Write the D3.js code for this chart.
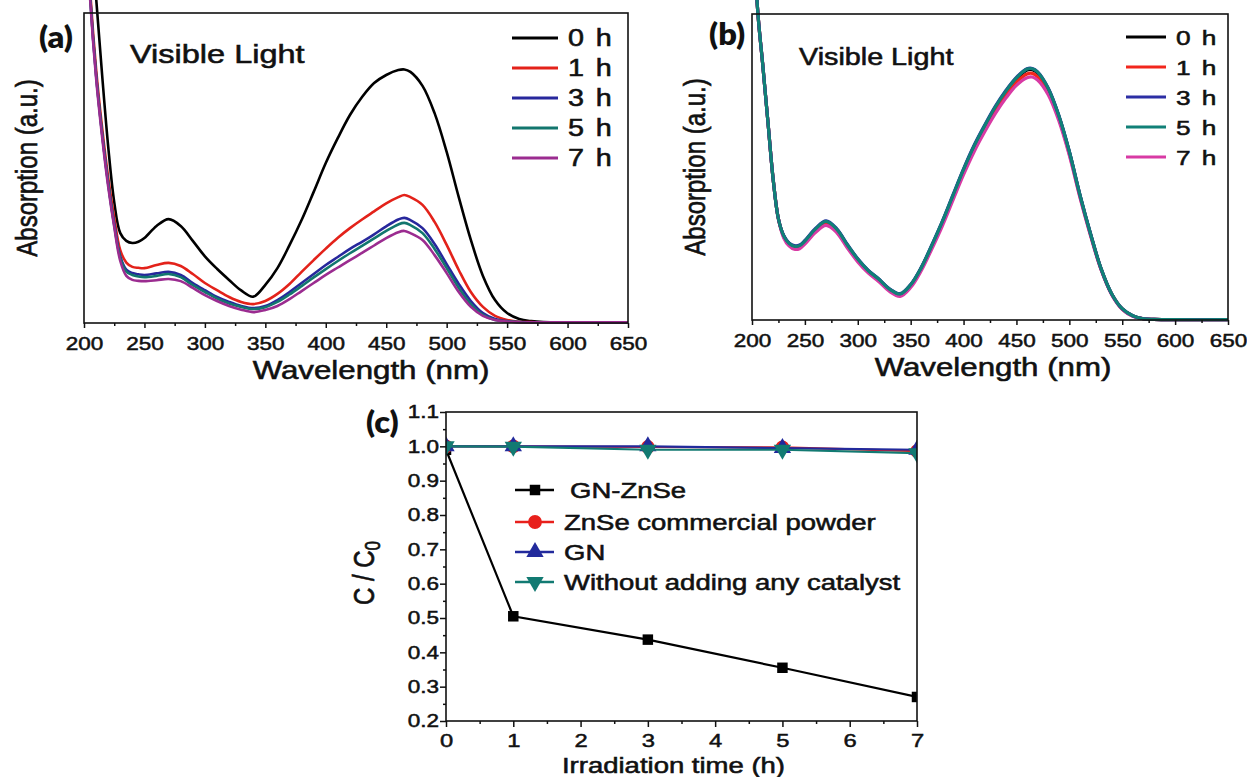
<!DOCTYPE html>
<html>
<head>
<meta charset="utf-8">
<script src="https://cdn.jsdelivr.net/npm/d3@7"></script>
<style>
  body { margin: 0; background: #fff; }
  svg { display: block; }
</style>
</head>
<body>
<svg id="fig" width="1247" height="777"></svg>
<script>
// ---- data ----
// wavelengths (nm) shared by all spectra
const wavelength = [200,205,210,215,220,225,230,235,240,245,250,
  260,270,280,290,300,310,320,330,340,350,360,370,380,390,400,410,420,430,440,450,460,
  465,470,480,490,500,510,520,530,540,550,560,570,580,600,650];

// panel (a) absorption (a.u.), GN-ZnSe under visible light
const a0h = [1.60,1.30,1.05,0.80,0.57,0.39,0.29,0.265,0.258,0.262,0.274,
  0.313,0.335,0.313,0.265,0.215,0.175,0.139,0.105,0.085,0.123,0.177,0.251,0.332,0.423,0.516,0.597,0.671,0.729,0.774,0.800,0.816,
  0.818,0.810,0.765,0.677,0.552,0.406,0.268,0.152,0.074,0.032,0.013,0.006,0.003,0.002,0.002];
const a1h = [1.50,1.08,0.82,0.63,0.47,0.34,0.235,0.195,0.181,0.178,0.177,
  0.187,0.194,0.184,0.158,0.129,0.106,0.084,0.068,0.061,0.071,0.094,0.126,0.165,0.203,0.240,0.275,0.306,0.334,0.360,0.386,0.406,
  0.413,0.406,0.381,0.326,0.252,0.171,0.100,0.052,0.023,0.010,0.004,0.003,0.002,0.002,0.002];
const a3h = [1.48,1.06,0.80,0.61,0.45,0.32,0.215,0.172,0.161,0.157,0.155,
  0.160,0.165,0.155,0.129,0.106,0.084,0.068,0.055,0.048,0.055,0.074,0.100,0.129,0.158,0.187,0.213,0.239,0.262,0.286,0.312,0.334,
  0.339,0.332,0.306,0.255,0.190,0.126,0.071,0.032,0.013,0.006,0.003,0.002,0.002,0.002,0.002];
const a5h = [1.48,1.06,0.80,0.61,0.45,0.315,0.21,0.166,0.155,0.150,0.148,
  0.152,0.158,0.148,0.122,0.100,0.079,0.063,0.052,0.045,0.051,0.068,0.092,0.119,0.147,0.174,0.200,0.225,0.249,0.273,0.297,0.318,
  0.323,0.316,0.290,0.239,0.177,0.113,0.061,0.026,0.010,0.005,0.003,0.002,0.002,0.002,0.002];
const a7h = [1.47,1.05,0.79,0.60,0.44,0.31,0.20,0.152,0.139,0.136,0.135,
  0.138,0.142,0.135,0.113,0.090,0.071,0.055,0.043,0.035,0.042,0.055,0.077,0.103,0.129,0.155,0.179,0.203,0.226,0.250,0.274,0.293,
  0.297,0.290,0.268,0.219,0.161,0.100,0.052,0.023,0.010,0.005,0.002,0.002,0.002,0.002,0.002];

// panel (b) absorption (a.u.), without catalyst
const b0h = [1.50,1.03,0.84,0.65,0.46,0.33,0.275,0.250,0.240,0.242,0.257,
  0.296,0.320,0.296,0.245,0.198,0.160,0.132,0.100,0.084,0.114,0.170,0.242,0.320,0.405,0.490,0.566,0.632,0.693,0.745,0.788,0.817,
  0.818,0.807,0.755,0.667,0.549,0.408,0.281,0.167,0.085,0.036,0.013,0.004,0.002,0.001,0.001];
const b1h = [1.50,1.03,0.84,0.65,0.46,0.33,0.272,0.246,0.236,0.238,0.252,
  0.290,0.313,0.290,0.240,0.194,0.156,0.129,0.097,0.081,0.111,0.166,0.238,0.315,0.399,0.483,0.558,0.623,0.683,0.734,0.777,0.804,
  0.806,0.795,0.745,0.659,0.543,0.404,0.279,0.166,0.085,0.036,0.013,0.004,0.002,0.001,0.001];
const b3h = [1.50,1.03,0.84,0.65,0.46,0.33,0.276,0.252,0.243,0.245,0.260,
  0.299,0.324,0.299,0.248,0.200,0.162,0.134,0.102,0.086,0.116,0.172,0.245,0.323,0.409,0.494,0.571,0.637,0.698,0.750,0.793,0.821,
  0.822,0.811,0.758,0.669,0.551,0.410,0.283,0.168,0.086,0.037,0.014,0.004,0.002,0.001,0.001];
const b5h = [1.50,1.03,0.84,0.65,0.46,0.33,0.275,0.251,0.241,0.243,0.258,
  0.297,0.322,0.297,0.246,0.199,0.161,0.133,0.101,0.085,0.115,0.171,0.244,0.322,0.407,0.492,0.569,0.635,0.696,0.748,0.791,0.820,
  0.821,0.810,0.757,0.668,0.550,0.409,0.282,0.168,0.086,0.037,0.014,0.004,0.002,0.001,0.001];
const b7h = [1.50,1.03,0.84,0.65,0.46,0.33,0.268,0.242,0.231,0.233,0.248,
  0.286,0.309,0.286,0.236,0.190,0.153,0.125,0.093,0.077,0.106,0.161,0.232,0.308,0.392,0.475,0.550,0.615,0.674,0.725,0.767,0.792,
  0.794,0.784,0.736,0.652,0.538,0.401,0.276,0.164,0.083,0.035,0.012,0.004,0.002,0.001,0.001];

const hourLabels = ["0 h", "1 h", "3 h", "5 h", "7 h"];

// panel (c) C/C0 vs irradiation time
const timeH = [0, 1, 3, 5, 7];
const gnZnSe = [0.99, 0.505, 0.437, 0.355, 0.270];
const znseCommercial = [1.0, 1.0, 0.998, 0.997, 0.986];
const gnOnly = [1.0, 1.0, 1.0, 0.995, 0.990];
const noCatalyst = [1.0, 0.999, 0.990, 0.990, 0.980];
const seriesNamesC = ["GN-ZnSe", "ZnSe commercial powder", "GN", "Without adding any catalyst"];

// ---- drawing ----
const SX = 1.25;   // the figure's lettering is stretched sideways
const FONT = '"Liberation Sans", Arial, sans-serif';
const TAGFONT = 'Lato, "Open Sans", sans-serif';
const INK = "#111";
const svg = d3.select("#fig");

function txt(x, y, s, size, o = {}) {
  const t = svg.append("text")
    .attr("transform", `translate(${x},${y}) scale(${o.sx ?? SX},1)` + (o.rot ? ` rotate(${o.rot})` : ""))
    .attr("text-anchor", o.anchor || "start")
    .style("font-family", o.family || FONT)
    .style("font-size", size + "px")
    .style("font-weight", o.weight || "normal")
    .style("letter-spacing", o.ls || "0px")
    .style("fill", INK)
    .style("stroke", o.weight ? "none" : INK)
    .style("stroke-width", 0.55);
  if (s !== null) t.text(s);
  return t;
}

function styleAxis(g, size) {
  g.attr("font-family", null).attr("font-size", null);
  g.select(".domain").remove();
  g.selectAll("line").attr("stroke", INK).attr("stroke-width", 1.5);
  g.selectAll("text")
    .style("font-family", FONT).style("font-size", size + "px")
    .style("fill", INK).style("stroke", INK).style("stroke-width", 0.5);
}

function spectrumPanel(p) {
  const x = d3.scaleLinear().domain([200, 650]).range([p.x0, p.x1]);
  const y = d3.scaleLinear().domain([0, 1]).range([p.y1, p.y0]);
  const clipId = "clip-" + p.tag;
  svg.append("clipPath").attr("id", clipId).append("rect")
    .attr("x", p.x0).attr("y", p.y0).attr("width", p.x1 - p.x0).attr("height", p.y1 - p.y0);

  const line = d3.line()
    .x((d, i) => x(wavelength[i]))
    .y(d => y(d))
    .curve(d3.curveCatmullRom.alpha(0.5));

  p.order.forEach(i => {
    svg.append("path")
      .attr("d", line(p.series[i]))
      .attr("clip-path", `url(#${clipId})`)
      .attr("fill", "none")
      .attr("stroke", p.colors[i])
      .attr("stroke-width", p.lw)
      .attr("stroke-linejoin", "round");
  });

  // box
  svg.append("rect")
    .attr("x", p.x0).attr("y", p.y0).attr("width", p.x1 - p.x0).attr("height", p.y1 - p.y0)
    .attr("fill", "none").attr("stroke", INK).attr("stroke-width", 1.6);

  // x axis, major + minor ticks
  const ax = svg.append("g").attr("transform", `translate(0,${p.y1})`)
    .call(d3.axisBottom(x).tickValues(d3.range(200, 651, 50)).tickSize(5).tickPadding(9).tickFormat(d3.format("d")));
  styleAxis(ax, 18);
  ax.selectAll("text").attr("transform", `scale(${SX},1)`);
  const axm = svg.append("g").attr("transform", `translate(0,${p.y1})`)
    .call(d3.axisBottom(x).tickValues(d3.range(225, 650, 50)).tickSize(3).tickFormat(""));
  styleAxis(axm, 18);

  // titles
  txt(p.titleX, p.y1 + 56, "Wavelength (nm)", 25, { anchor: "middle" });
  txt(p.ylabX, (p.y0 + p.y1) / 2, "Absorption (a.u.)", 24, { anchor: "middle", rot: -90 });
  txt(p.tagX, p.tagY, p.tag, 31, { family: TAGFONT, weight: 800, sx: 1.05 });
  txt(p.visX, p.visY, "Visible Light", p.visSize);

  // legend
  hourLabels.forEach((lab, i) => {
    const ly = p.legY + i * p.legStep;
    svg.append("line")
      .attr("x1", p.legX0).attr("x2", p.legX1).attr("y1", ly).attr("y2", ly)
      .attr("stroke", p.colors[i]).attr("stroke-width", 3);
    txt(p.legX1 + 10, ly + 8, lab, p.legSize, { ls: "1.5px" });
  });
}

spectrumPanel({
  tag: "(a)", x0: 84, x1: 628, y0: 13, y1: 323,
  series: [a0h, a1h, a3h, a5h, a7h],
  colors: ["#000000", "#e3221a", "#27279c", "#12766e", "#9b2c90"],
  order: [0, 1, 2, 3, 4], lw: 2.6,
  titleX: 371, ylabX: 37, tagX: 39, tagY: 48,
  visX: 130, visY: 63, visSize: 26,
  legX0: 512, legX1: 558, legY: 38, legStep: 30, legSize: 23
});

spectrumPanel({
  tag: "(b)", x0: 752, x1: 1228, y0: 14, y1: 320,
  series: [b0h, b1h, b3h, b5h, b7h],
  colors: ["#000000", "#f2261c", "#2c2ea4", "#118077", "#d83aa4"],
  order: [0, 1, 4, 2, 3], lw: 3.2,
  titleX: 993, ylabX: 705, tagX: 709, tagY: 45,
  visX: 799, visY: 65, visSize: 23,
  legX0: 1126, legX1: 1166, legY: 37, legStep: 30, legSize: 21
});

// ---- panel (c) ----
const cBox = { x0: 446, x1: 917, y0: 412, y1: 721 };
const xC = d3.scaleLinear().domain([0, 7]).range([cBox.x0, cBox.x1]);
const yC = d3.scaleLinear().domain([0.2, 1.1]).range([cBox.y1, cBox.y0]);

svg.append("clipPath").attr("id", "clip-c").append("rect")
  .attr("x", cBox.x0).attr("y", cBox.y0).attr("width", cBox.x1 - cBox.x0).attr("height", cBox.y1 - cBox.y0);

const cSeries = [
  { vals: gnZnSe, color: "#000000", sym: d3.symbolSquare, size: 110, rot: 0 },
  { vals: znseCommercial, color: "#e8201c", sym: d3.symbolCircle, size: 150, rot: 0 },
  { vals: gnOnly, color: "#222a9c", sym: d3.symbolTriangle, size: 130, rot: 0 },
  { vals: noCatalyst, color: "#127a72", sym: d3.symbolTriangle, size: 130, rot: 180 }
];

const lineC = d3.line().x((d, i) => xC(timeH[i])).y(d => yC(d));
const plotC = svg.append("g").attr("clip-path", "url(#clip-c)");
cSeries.forEach(s => {
  plotC.append("path").attr("d", lineC(s.vals))
    .attr("fill", "none").attr("stroke", s.color).attr("stroke-width", 2.2);
  plotC.selectAll(null).data(s.vals).enter().append("path")
    .attr("d", d3.symbol().type(s.sym).size(s.size))
    .attr("transform", (d, i) => `translate(${xC(timeH[i])},${yC(d)}) rotate(${s.rot})`)
    .attr("fill", s.color);
});

svg.append("rect")
  .attr("x", cBox.x0).attr("y", cBox.y0).attr("width", cBox.x1 - cBox.x0).attr("height", cBox.y1 - cBox.y0)
  .attr("fill", "none").attr("stroke", INK).attr("stroke-width", 1.6);

const axC = svg.append("g").attr("transform", `translate(0,${cBox.y1})`)
  .call(d3.axisBottom(xC).tickValues(d3.range(0, 8)).tickSize(6).tickPadding(7).tickFormat(d3.format("d")));
styleAxis(axC, 19);
axC.selectAll("text").attr("transform", `scale(${SX},1)`);
const axCm = svg.append("g").attr("transform", `translate(0,${cBox.y1})`)
  .call(d3.axisBottom(xC).tickValues(d3.range(0.5, 7, 1)).tickSize(3).tickFormat(""));
styleAxis(axCm, 18);

const ayC = svg.append("g").attr("transform", `translate(${cBox.x0},0)`)
  .call(d3.axisLeft(yC).tickValues(d3.range(2, 12).map(v => v / 10)).tickSize(6).tickFormat(d3.format(".1f")));
styleAxis(ayC, 18);
ayC.selectAll("text").attr("x", -7 / SX).attr("transform", `scale(${SX},1)`);
const ayCm = svg.append("g").attr("transform", `translate(${cBox.x0},0)`)
  .call(d3.axisLeft(yC).tickValues(d3.range(25, 110, 10).map(v => v / 100)).tickSize(3).tickFormat(""));
styleAxis(ayCm, 18);

txt(xC(3.5) - 8, 773, "Irradiation time (h)", 22, { anchor: "middle" });
const yl = txt(374, 573, null, 24, { anchor: "middle", rot: -90 });
yl.append("tspan").text("C / C");
yl.append("tspan").attr("dy", 5).style("font-size", "17px").text("0");
txt(366, 433, "(c)", 31, { family: TAGFONT, weight: 800, sx: 1.05 });

// legend (c)
const legRowsC = [490, 522, 552, 582];
cSeries.forEach((s, i) => {
  const ly = legRowsC[i];
  svg.append("line").attr("x1", 515).attr("x2", 554).attr("y1", ly).attr("y2", ly)
    .attr("stroke", s.color).attr("stroke-width", 2.4);
  svg.append("path").attr("d", d3.symbol().type(s.sym).size(s.size))
    .attr("transform", `translate(535,${ly}) rotate(${s.rot})`).attr("fill", s.color);
  txt(i === 0 ? 570 : 564, ly + 8, seriesNamesC[i], 22);
});
</script>
</body>
</html>
